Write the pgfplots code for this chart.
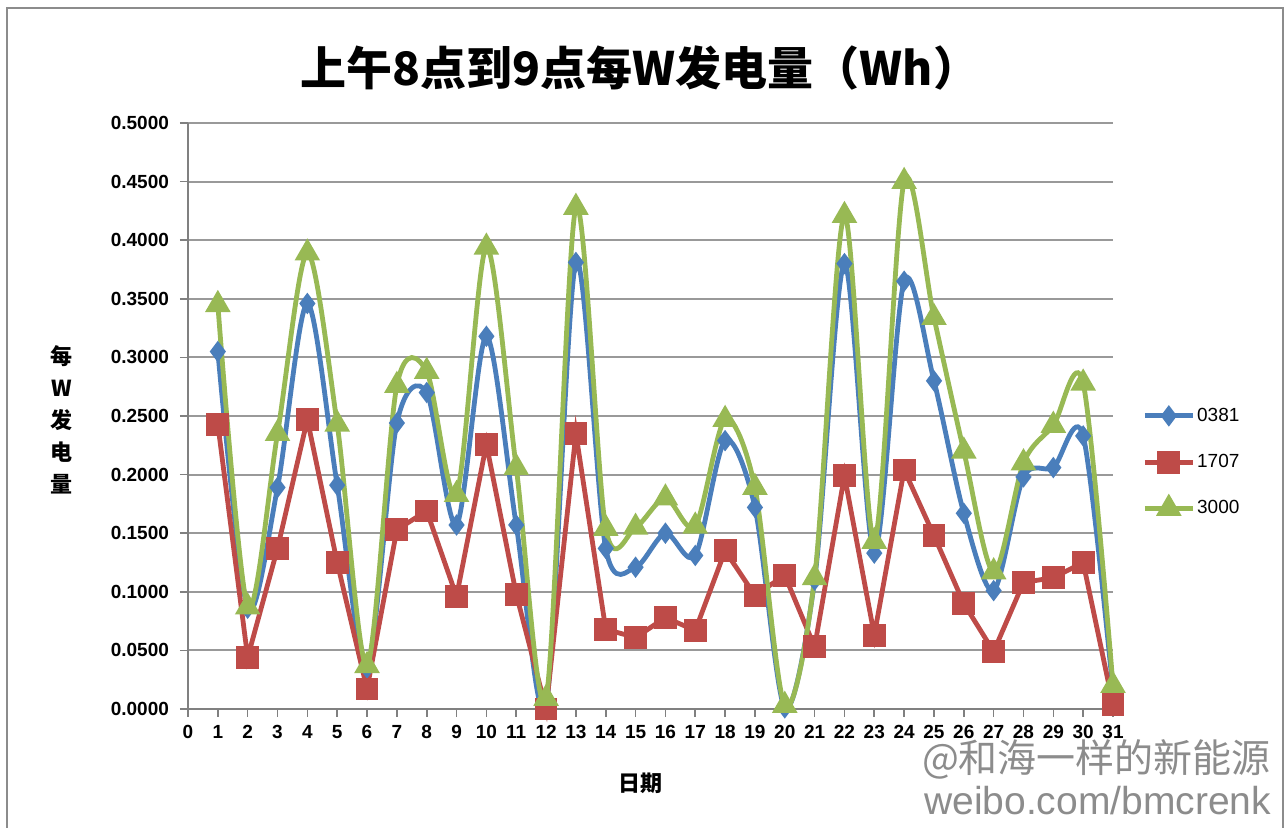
\documentclass[border=0pt]{standalone}
\usepackage{pgfplots}
\pgfplotsset{compat=1.18}
\usepackage{fontspec}
\setmainfont{Liberation Sans}
\newfontfamily\cjk{Noto Sans CJK SC}
\definecolor{cblue}{HTML}{4A7EBB}
\definecolor{cred}{HTML}{BE4B48}
\definecolor{cgreen}{HTML}{98B954}
\begin{document}
\begin{tikzpicture}
\path[use as bounding box, fill=white] (-94pt,-59.5pt) rectangle (550pt,354.5pt);
\draw[black!45, line width=0.8pt] (-90.5pt,-70pt) -- (-90.5pt,350.5pt) -- (547.5pt,350.5pt) -- (547.5pt,-70pt);
\begin{axis}[
  scale only axis,
  width=462.5pt, height=293pt,
  xmin=0, xmax=31, ymin=0, ymax=0.5,
  xtick={0,1,...,31},
  ytick={0,0.05,...,0.5},
  axis lines=left,
  axis line style={black!50, line width=0.9pt, -},
  tick align=outside,
  tick style={black!50, line width=0.8pt},
  major tick length=4pt,
  ymajorgrids,
  grid style={black!40, line width=1pt},
  /pgf/number format/assume math mode=true,
  yticklabel={\pgfmathprintnumber[fixed, fixed zerofill, precision=4]{\tick}},
  yticklabel style={font=\bfseries\fontsize{9.5}{10}\selectfont, xshift=-2pt},
  xticklabel style={font=\bfseries\fontsize{9.5}{10}\selectfont, inner sep=1pt, yshift=-3pt},
  scaled y ticks=false,
  legend style={at={(1.025,0.525)}, anchor=north west, draw=none, fill=none,
    font=\fontsize{9.5}{11}\selectfont, row sep=13pt, nodes={inner sep=1pt}},
  legend cell align=left,
  legend image code/.code={
    \draw[#1, mark repeat=2, mark phase=2] plot coordinates {(0cm,0cm) (0.42cm,0cm) (0.84cm,0cm)};
  },
  clip=false,
]
\addplot[cblue, line width=2.4pt, smooth, tension=0.5, mark=diamond*, mark size=3.4pt, mark options={solid}] coordinates {
(1,0.305) (2,0.086) (3,0.189) (4,0.346) (5,0.191) (6,0.035) (7,0.244) (8,0.270)
(9,0.157) (10,0.318) (11,0.157) (12,0.003) (13,0.381) (14,0.137) (15,0.121) (16,0.150)
(17,0.131) (18,0.229) (19,0.172) (20,0.001) (21,0.110) (22,0.380) (23,0.133) (24,0.365)
(25,0.280) (26,0.167) (27,0.101) (28,0.198) (29,0.206) (30,0.233) (31,0.015)};
\addlegendentry{0381}
\addplot[cred, line width=2.4pt, mark=square*, mark size=4.5pt, mark options={solid}] coordinates {
(1,0.243) (2,0.044) (3,0.137) (4,0.247) (5,0.125) (6,0.017) (7,0.153) (8,0.169)
(9,0.096) (10,0.226) (11,0.098) (12,0.000) (13,0.235) (14,0.068) (15,0.061) (16,0.078)
(17,0.067) (18,0.135) (19,0.097) (20,0.114) (21,0.053) (22,0.199) (23,0.063) (24,0.204)
(25,0.148) (26,0.090) (27,0.049) (28,0.108) (29,0.112) (30,0.125) (31,0.004)};
\addlegendentry{1707}
\addplot[cgreen, line width=2.4pt, smooth, tension=0.5, mark=triangle*, mark size=5pt, mark options={solid}] coordinates {
(1,0.345) (2,0.087) (3,0.235) (4,0.389) (5,0.243) (6,0.037) (7,0.276) (8,0.288)
(9,0.183) (10,0.394) (11,0.206) (12,0.009) (13,0.428) (14,0.154) (15,0.155) (16,0.180)
(17,0.156) (18,0.247) (19,0.189) (20,0.003) (21,0.112) (22,0.421) (23,0.143) (24,0.450)
(25,0.334) (26,0.220) (27,0.117) (28,0.210) (29,0.242) (30,0.278) (31,0.020)};
\addlegendentry{3000}
\end{axis}
\node[font=\cjk\bfseries\fontsize{23}{26}\selectfont] at (226pt,320.5pt) {上午8点到9点每W发电量（Wh）};
\node[font=\cjk\bfseries\fontsize{11}{16}\selectfont, align=center] at (-63pt,144.5pt) {每\\W\\发\\电\\量};
\node[font=\cjk\bfseries\fontsize{11}{13}\selectfont] at (226pt,-37pt) {日期};
\node[font=\cjk\fontsize{19.5}{21}\selectfont, text=black!45, anchor=east] at (545pt,-25pt) {@和海一样的新能源};
\node[font=\fontsize{19.5}{21}\selectfont, text=black!45, anchor=east] at (545pt,-46pt) {weibo.com/bmcrenk};
\end{tikzpicture}
\end{document}
